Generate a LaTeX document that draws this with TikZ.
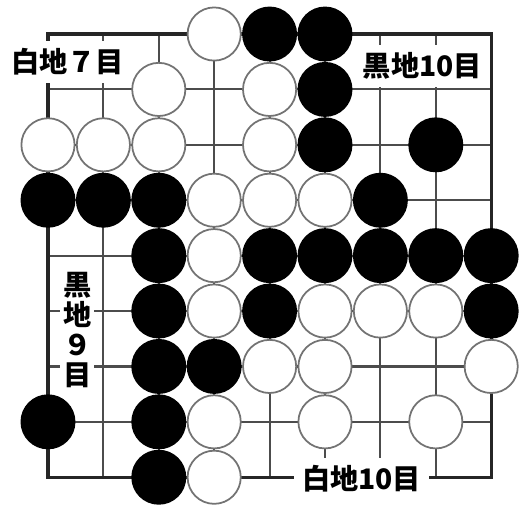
\documentclass[tikz,border=0pt]{standalone}
\usepackage{fontspec}
\newfontfamily\cjk{Noto Sans CJK JP}

\begin{document}
\begin{tikzpicture}[
    x=1cm,y=-1cm,
    grid/.style={draw=black!70,line width=1.1pt},
    edge/.style={draw=black!85,line width=1.7pt},
    blackstone/.style={circle,draw=black,fill=black,line width=0.9pt,minimum size=0.96cm,inner sep=0pt},
    whitestone/.style={circle,draw=black!55,fill=white,line width=0.9pt,minimum size=0.96cm,inner sep=0pt},
    territory/.style={fill=white,inner xsep=4pt,inner ysep=3.8pt,font=\cjk\bfseries\fontsize{14.5}{15.4}\selectfont},
    territoryv/.style={territory,inner sep=1.5pt,align=center}
]

% Frame
\useasboundingbox (-0.866,-0.614) rectangle (8.538,8.502);

% Board lines
\foreach \i in {1,...,7} {
    \draw[grid] (\i,0) -- (\i,8);
    \draw[grid] (0,\i) -- (8,\i);
}
\draw[edge] (0,0) rectangle (8,8);

% Territory counts
\node[territory] (w7) at (0.352,0.505) {白地７目};
\node[territory] (b10) at (6.76,0.578) {黒地10目};
\node[territory] (w10) at (5.66,8.02) {白地10目};
\node[territoryv] (b9) at (0.532,5.334) {黒\\地\\９\\目};

% Black stones
\foreach \c/\r in {4/0,5/0,5/1,5/2,7/2,0/3,1/3,2/3,6/3,2/4,4/4,5/4,6/4,7/4,8/4,
                   2/5,4/5,8/5,2/6,3/6,0/7,2/7,2/8}
    \node[blackstone] (b-\c-\r) at (\c,\r) {};

% White stones
\foreach \c/\r in {3/0,2/1,4/1,0/2,1/2,2/2,4/2,3/3,4/3,5/3,3/4,3/5,5/5,6/5,7/5,
                   4/6,5/6,8/6,3/7,5/7,7/7,3/8}
    \node[whitestone] (w-\c-\r) at (\c,\r) {};

\end{tikzpicture}
\end{document}
